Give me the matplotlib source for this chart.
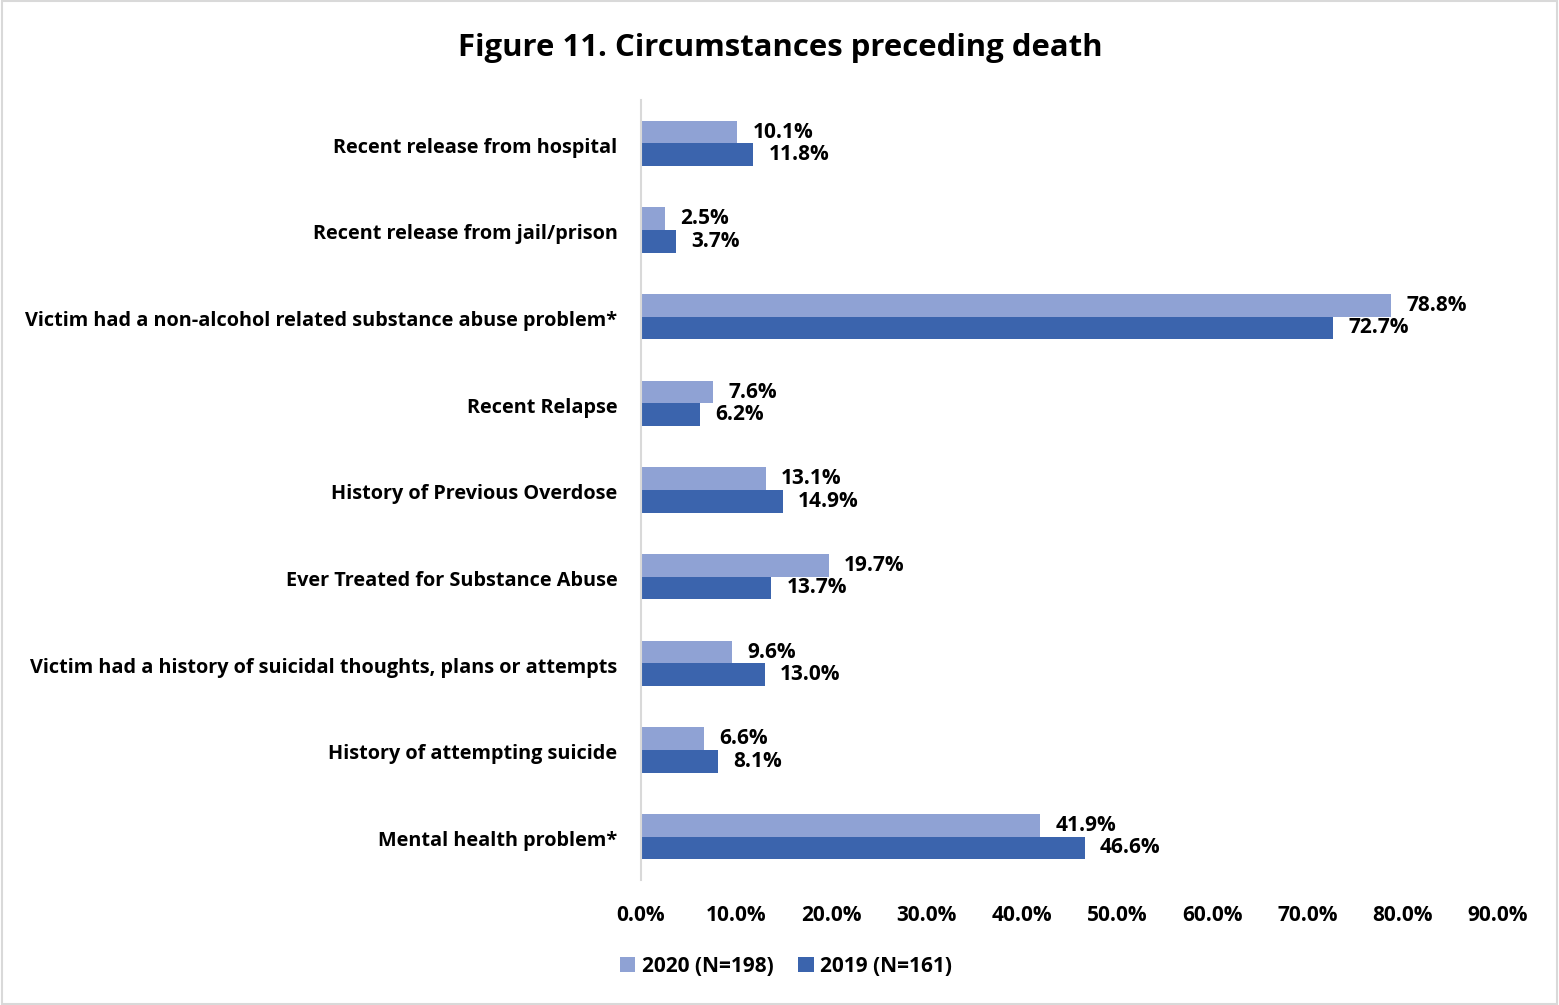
import matplotlib.pyplot as plt
import numpy as np
from matplotlib.patches import Rectangle

plt.rcParams['font.family'] = ['Open Sans', 'DejaVu Sans']
plt.rcParams['font.weight'] = 'bold'

categories = ['Recent release from hospital',
              'Recent release from jail/prison',
              'Victim had a non-alcohol related substance abuse problem*',
              'Recent Relapse',
              'History of Previous Overdose',
              'Ever Treated for Substance Abuse',
              'Victim had a history of suicidal thoughts, plans or attempts',
              'History of attempting suicide',
              'Mental health problem*']
vals_2020 = [10.1, 2.5, 78.8, 7.6, 13.1, 19.7, 9.6, 6.6, 41.9]
vals_2019 = [11.8, 3.7, 72.7, 6.2, 14.9, 13.7, 13.0, 8.1, 46.6]
xticks = np.arange(0, 91, 10)

c2020 = '#8FA2D4'
c2019 = '#3B64AD'

fig = plt.figure(figsize=(15.59, 10.05), dpi=100)
ax = fig.add_axes([641 / 1559, 1 - 880 / 1005, (1498 - 641) / 1559, 780 / 1005])

y = np.arange(len(categories))
h = 0.26
ax.barh(y - h / 2, vals_2020, height=h, color=c2020, label='2020 (N=198)')
ax.barh(y + h / 2, vals_2019, height=h, color=c2019, label='2019 (N=161)')

for yi, v in zip(y, vals_2020):
    ax.text(v + 1.6, yi - h / 2, f'{v:.1f}%', va='center', ha='left', fontsize=15, fontweight='bold')
for yi, v in zip(y, vals_2019):
    ax.text(v + 1.6, yi + h / 2, f'{v:.1f}%', va='center', ha='left', fontsize=15, fontweight='bold')

ax.set_ylim(len(categories) - 0.5, -0.5)
ax.set_xlim(0, 90)
ax.set_yticks(y + 0.02)
ax.set_yticklabels(categories, fontsize=14.3, fontweight='bold')
ax.set_xticks(xticks)
ax.set_xticklabels([f'{t:.1f}%' for t in xticks], fontsize=15, fontweight='bold')
ax.tick_params(axis='both', length=0)
ax.tick_params(axis='y', pad=17)
ax.tick_params(axis='x', pad=18)
for s in ['top', 'right', 'bottom']:
    ax.spines[s].set_visible(False)
ax.spines['left'].set_color('#D9D9D9')
ax.spines['left'].set_linewidth(1.5)

fig.text(780 / 1559, 1 - 48 / 1005, 'Figure 11. Circumstances preceding death',
         ha='center', va='center', fontsize=22.4, fontweight='bold')

fig.legend(loc='center', bbox_to_anchor=(786 / 1559, 1 - 966 / 1005), ncol=2, frameon=False,
           prop={'size': 15, 'weight': 'bold'}, handlelength=0.75, handleheight=0.75,
           handletextpad=0.3, columnspacing=1.2)

fig.add_artist(Rectangle((0.001, 0.001), 0.998, 0.998, transform=fig.transFigure,
                         fill=False, edgecolor='#D9D9D9', linewidth=1.5))

fig.savefig('out.png', dpi=100)
